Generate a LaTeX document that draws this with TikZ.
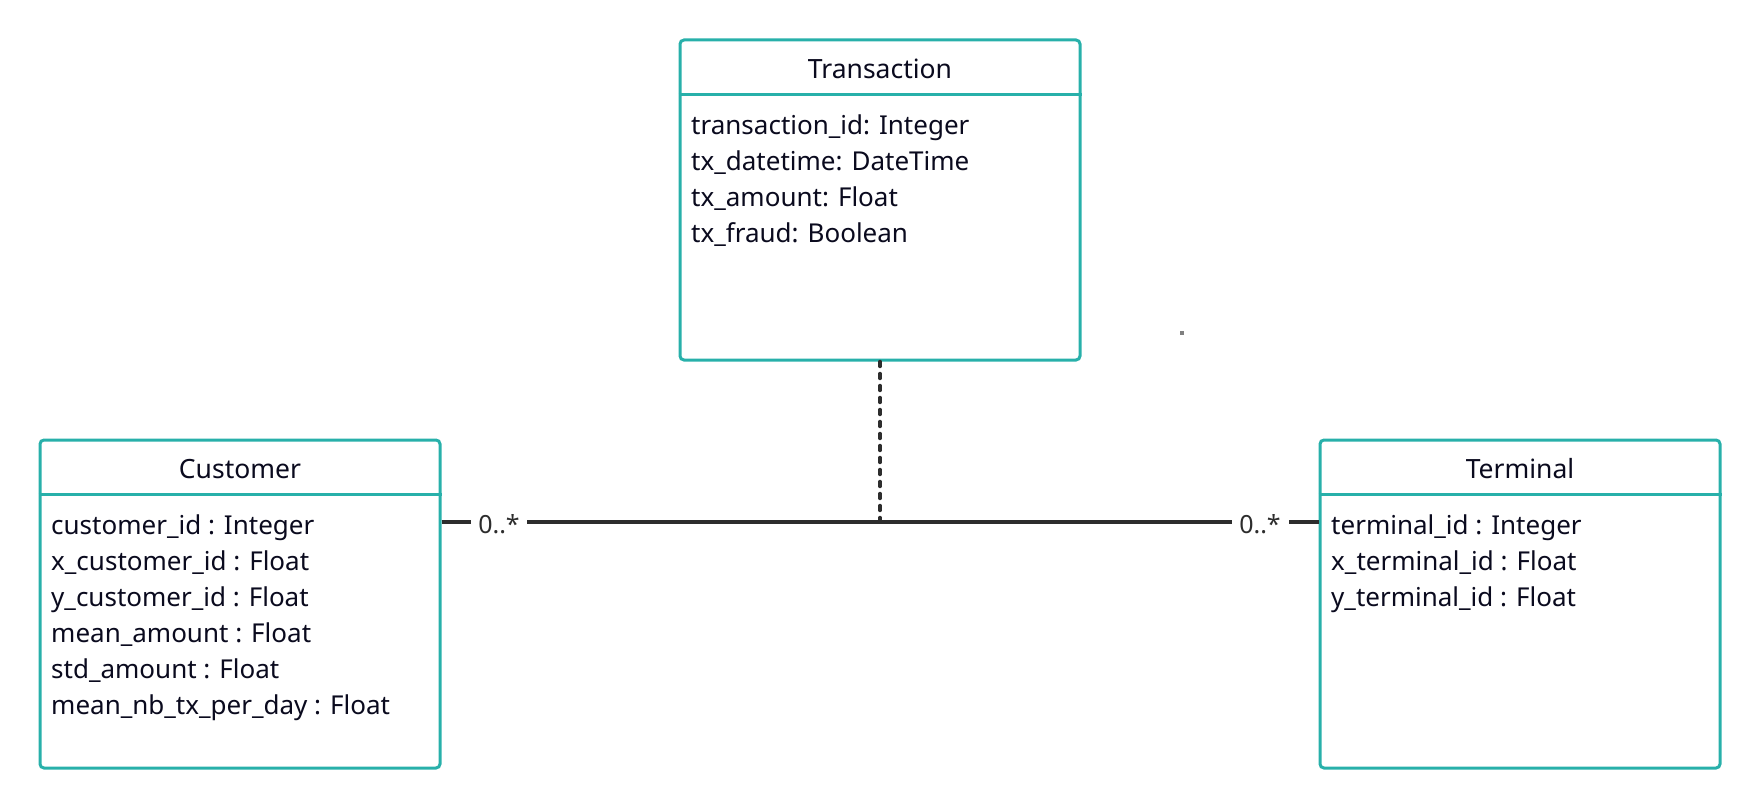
\documentclass[tikz,border=0pt]{standalone}
\usepackage{fontspec}
\setmainfont{Noto Sans}
\definecolor{umlteal}{RGB}{40,176,170}
\definecolor{umltext}{RGB}{10,10,30}
\definecolor{linegray}{RGB}{45,45,45}
\begin{document}
\begin{tikzpicture}[x=1pt,y=-1pt,
  umlbox/.style={draw=umlteal, line width=3pt, rounded corners=4pt, fill=white, minimum width=400pt, inner sep=0},
  divider/.style={draw=umlteal, line width=3pt},
  attr/.style={anchor=base west, inner sep=0, font=\fontsize{26}{31}\selectfont, text=umltext},
  ttl/.style={anchor=base, inner sep=0, font=\fontsize{26.5}{31}\selectfont, text=umltext},
  mult/.style={anchor=base, inner sep=0, font=\fontsize{25}{30}\selectfont, text=linegray},
  conn/.style={draw=linegray, line width=3.2pt},
  dashconn/.style={draw=linegray, line width=3.4pt, dash pattern=on 5pt off 7pt, line cap=round}]
\useasboundingbox (0,0) rectangle (1760,808);

% boxes
\node[umlbox, minimum height=320pt] (trans) at (880,200) {};
\node[umlbox, minimum height=328pt] (cust) at (240,604) {};
\node[umlbox, minimum height=328pt] (term) at (1520,604) {};

\draw[divider] ([yshift=-56pt]trans.north west) -- ([yshift=-56pt]trans.north east);
\draw[divider] ([yshift=-56pt]cust.north west) -- ([yshift=-56pt]cust.north east);
\draw[divider] ([yshift=-56pt]term.north west) -- ([yshift=-56pt]term.north east);

% titles
\node[ttl] (transT) at (880,78) {Transaction};
\node[ttl] (custT) at (240,478) {Customer};
\node[ttl] (termT) at (1520,478) {Terminal};

% Transaction attributes
\node[attr] (ta1) at (691,134) {transaction\_id: Integer};
\node[attr] (ta2) at (691,170) {tx\_datetime: DateTime};
\node[attr] (ta3) at (691,206) {tx\_amount: Float};
\node[attr] (ta4) at (691,242) {tx\_fraud: Boolean};

% Customer attributes
\node[attr] (ca1) at (51,534) {customer\_id : Integer};
\node[attr] (ca2) at (51,570) {x\_customer\_id : Float};
\node[attr] (ca3) at (51,606) {y\_customer\_id : Float};
\node[attr] (ca4) at (51,642) {mean\_amount : Float};
\node[attr] (ca5) at (51,678) {std\_amount : Float};
\node[attr] (ca6) at (51,714) {mean\_nb\_tx\_per\_day : Float};

% Terminal attributes
\node[attr] (te1) at (1331,534) {terminal\_id : Integer};
\node[attr] (te2) at (1331,570) {x\_terminal\_id : Float};
\node[attr] (te3) at (1331,606) {y\_terminal\_id : Float};

% connectors
\coordinate (j) at (880,522);
\coordinate (cj) at (cust.east |- j);
\coordinate (tj) at (term.west |- j);
\node[mult] (m1) at (499,533) {0..*};
\node[mult] (m2) at (1260,533) {0..*};
\coordinate (m1w) at (471,522);
\coordinate (m1e) at (527,522);
\coordinate (m2w) at (1232,522);
\coordinate (m2e) at (1289,522);
\draw[conn] (cj) -- (m1w);
\draw[conn] (m1e) -- (m2w);
\draw[conn] (m2e) -- (tj);
\draw[dashconn] (trans.south) -- (j);

% stray dot
\fill[gray] (1180,331) rectangle (1184,335);
\end{tikzpicture}
\end{document}
